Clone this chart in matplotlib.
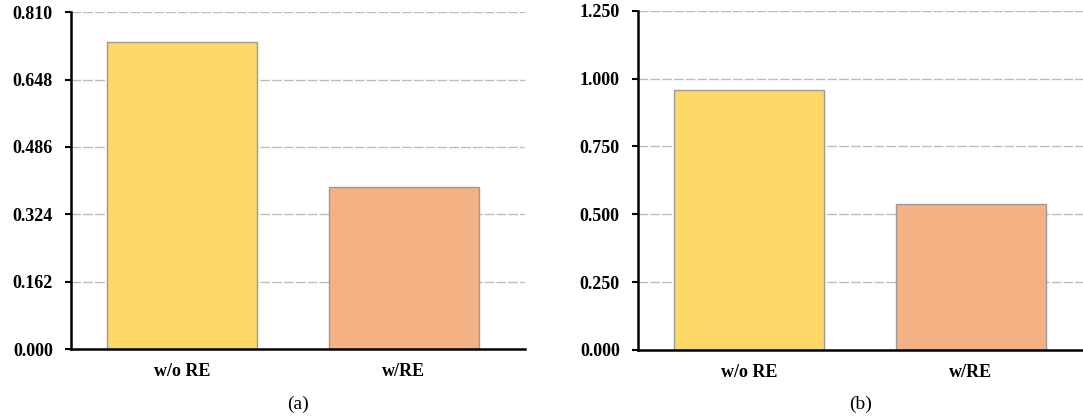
import matplotlib
matplotlib.use("Agg")
import matplotlib.pyplot as plt

plt.rcParams["font.family"] = ["Liberation Serif", "DejaVu Serif"]

categories = ["w/o RE", "w/RE"]
values_a = [0.739, 0.389]
values_b = [0.960, 0.537]
ticks_a = [0.000, 0.162, 0.324, 0.486, 0.648, 0.810]
ticks_b = [0.000, 0.250, 0.500, 0.750, 1.000, 1.250]
colors = ["#FDD867", "#F4B184"]


def draw_panel(ax, values, ticks, xmax, label):
    x = range(len(categories))
    ax.bar(x, values, width=0.675, color=colors, edgecolor="#9A9A9A",
           linewidth=1.0, zorder=3)
    ax.set_ylim(ticks[0], ticks[-1])
    ax.set_xlim(-0.5, xmax)
    ax.set_yticks(ticks)
    ax.set_yticklabels([f"{t:.3f}" for t in ticks], fontweight="bold",
                       fontsize=13)
    ax.set_xticks(list(x))
    ax.set_xticklabels(categories, fontweight="bold", fontsize=13)
    ax.tick_params(axis="x", length=0, pad=10)
    ax.tick_params(axis="y", length=4, width=1.5, direction="out", pad=9)
    ax.yaxis.grid(True, linestyle=(0, (7, 1.5)), color="#BDBDBD",
                  linewidth=1.0, zorder=0)
    ax.set_axisbelow(True)
    for side in ("top", "right"):
        ax.spines[side].set_visible(False)
    for side in ("left", "bottom"):
        ax.spines[side].set_linewidth(1.8)
        ax.spines[side].set_color("black")
    ax.spines["bottom"].set_zorder(4)
    ax.set_xlabel(label, fontsize=14, labelpad=11)


fig = plt.figure(figsize=(10.83, 4.19), dpi=100)
ax1 = fig.add_axes([0.0656, 0.167, 0.419, 0.804])
ax2 = fig.add_axes([0.589, 0.165, 0.411, 0.809])

draw_panel(ax1, values_a, ticks_a, 1.545, "(a)")
draw_panel(ax2, values_b, ticks_b, 1.505, "(b)")

fig.savefig("out.png", dpi=100)
